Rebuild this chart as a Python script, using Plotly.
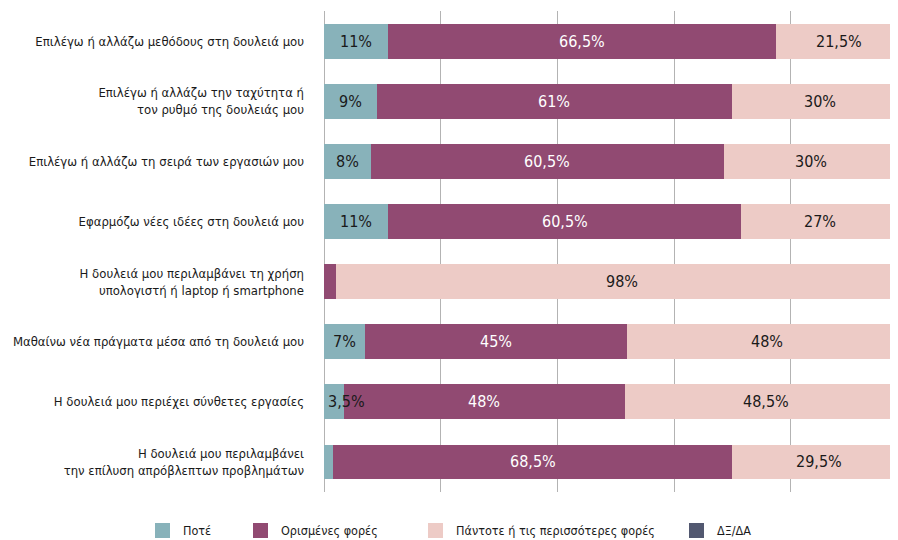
import plotly.graph_objects as go

categories = [
    "Επιλέγω ή αλλάζω μεθόδους στη δουλειά μου",
    "Επιλέγω ή αλλάζω την ταχύτητα ή<br>τον ρυθμό της δουλειάς μου",
    "Επιλέγω ή αλλάζω τη σειρά των εργασιών μου",
    "Εφαρμόζω νέες ιδέες στη δουλειά μου",
    "Η δουλειά μου περιλαμβάνει τη χρήση<br>υπολογιστή ή laptop ή smartphone",
    "Μαθαίνω νέα πράγματα μέσα από τη δουλειά μου",
    "Η δουλειά μου περιέχει σύνθετες εργασίες",
    "Η δουλειά μου περιλαμβάνει<br>την επίλυση απρόβλεπτων προβλημάτων",
]
never = [11, 9, 8, 11, 0, 7, 3.5, 1.5]
sometimes = [66.5, 61, 60.5, 60.5, 2, 45, 48, 68.5]
always = [21.5, 30, 30, 27, 98, 48, 48.5, 29.5]
dkna = [1, 0, 1.5, 1.5, 0, 0, 0, 0.5]

series_names = ["Ποτέ", "Ορισμένες φορές", "Πάντοτε ή τις περισσότερες φορές", "ΔΞ/ΔΑ"]
series_vals = [never, sometimes, always, dkna]
colors = ["#88B2BA", "#914A72", "#EDCBC6", "#525870"]
text_colors = ["#1a1a1a", "#ffffff", "#1a1a1a", "#ffffff"]

FONT = "DejaVu Sans Condensed, Liberation Sans Narrow, sans-serif"

# page has an 8px body margin; figure sized to fill the visible window
W, H = 882, 532
L, R, T, B = 316, 0, 3, 48
PW, PH = W - L - R, H - T - B
PX_PER_PCT = 5.835  # 100% spans ~583 px; chart is cropped at the right edge


def px_to_paper_x(px):
    return (px - L) / PW


def px_to_paper_y(py):
    return (H - B - py) / PH


fig = go.Figure()
for name, vals, col in zip(series_names, series_vals, colors):
    fig.add_trace(go.Bar(
        y=categories, x=vals, name=name, orientation="h",
        marker=dict(color=col, line=dict(width=0)),
        hoverinfo="skip", showlegend=False,
    ))


def fmt(v):
    return ("%g" % v).replace(".", ",") + "%"


annotations = []
for i, cat in enumerate(categories):
    start = 0.0
    for s, vals in enumerate(series_vals):
        v = vals[i]
        if v >= 3 and s < 3:
            if v < 5:
                ax, anc, xs = start, "left", 2
            else:
                ax, anc, xs = start + v / 2, "center", 0
            annotations.append(dict(
                x=ax, y=cat, xref="x", yref="y", text=fmt(v), showarrow=False,
                xanchor=anc, xshift=xs,
                font=dict(family=FONT, size=16, color=text_colors[s]),
            ))
        start += v

# manual legend (figure pixel coordinates)
legend_sq_px = [147, 245, 420, 681]
SQ = 15
LEG_CY = 522.5
shapes = []
for name, col, sx in zip(series_names, colors, legend_sq_px):
    shapes.append(dict(
        type="rect", xref="paper", yref="paper",
        x0=px_to_paper_x(sx), x1=px_to_paper_x(sx + SQ),
        y0=px_to_paper_y(LEG_CY + SQ / 2), y1=px_to_paper_y(LEG_CY - SQ / 2),
        fillcolor=col, line=dict(width=0), layer="above",
    ))
    annotations.append(dict(
        x=px_to_paper_x(sx + SQ + 11), y=px_to_paper_y(LEG_CY),
        xref="paper", yref="paper", text=name, showarrow=False,
        xanchor="left", yanchor="middle",
        font=dict(family=FONT, size=12.5, color="#1a1a1a"),
    ))

fig.update_layout(
    barmode="stack",
    bargap=0.42,
    width=W, height=H,
    margin=dict(l=L, r=R, t=T, b=B, autoexpand=False),
    paper_bgcolor="white", plot_bgcolor="white",
    font=dict(family=FONT, size=13, color="#1a1a1a"),
    annotations=annotations,
    shapes=shapes,
    showlegend=False,
)
fig.update_xaxes(
    range=[0, PW / PX_PER_PCT], dtick=20, showgrid=True, gridcolor="#b3b3b3", gridwidth=1,
    showticklabels=False, zeroline=True, zerolinecolor="#b3b3b3", zerolinewidth=1,
    showline=False, fixedrange=True, automargin=False,
)
fig.update_yaxes(
    autorange="reversed", showgrid=False, ticks="", ticklabelstandoff=19,
    tickfont=dict(family=FONT, size=13, color="#1a1a1a"), showline=False,
    automargin=False,
)

fig.write_html("out.html")
